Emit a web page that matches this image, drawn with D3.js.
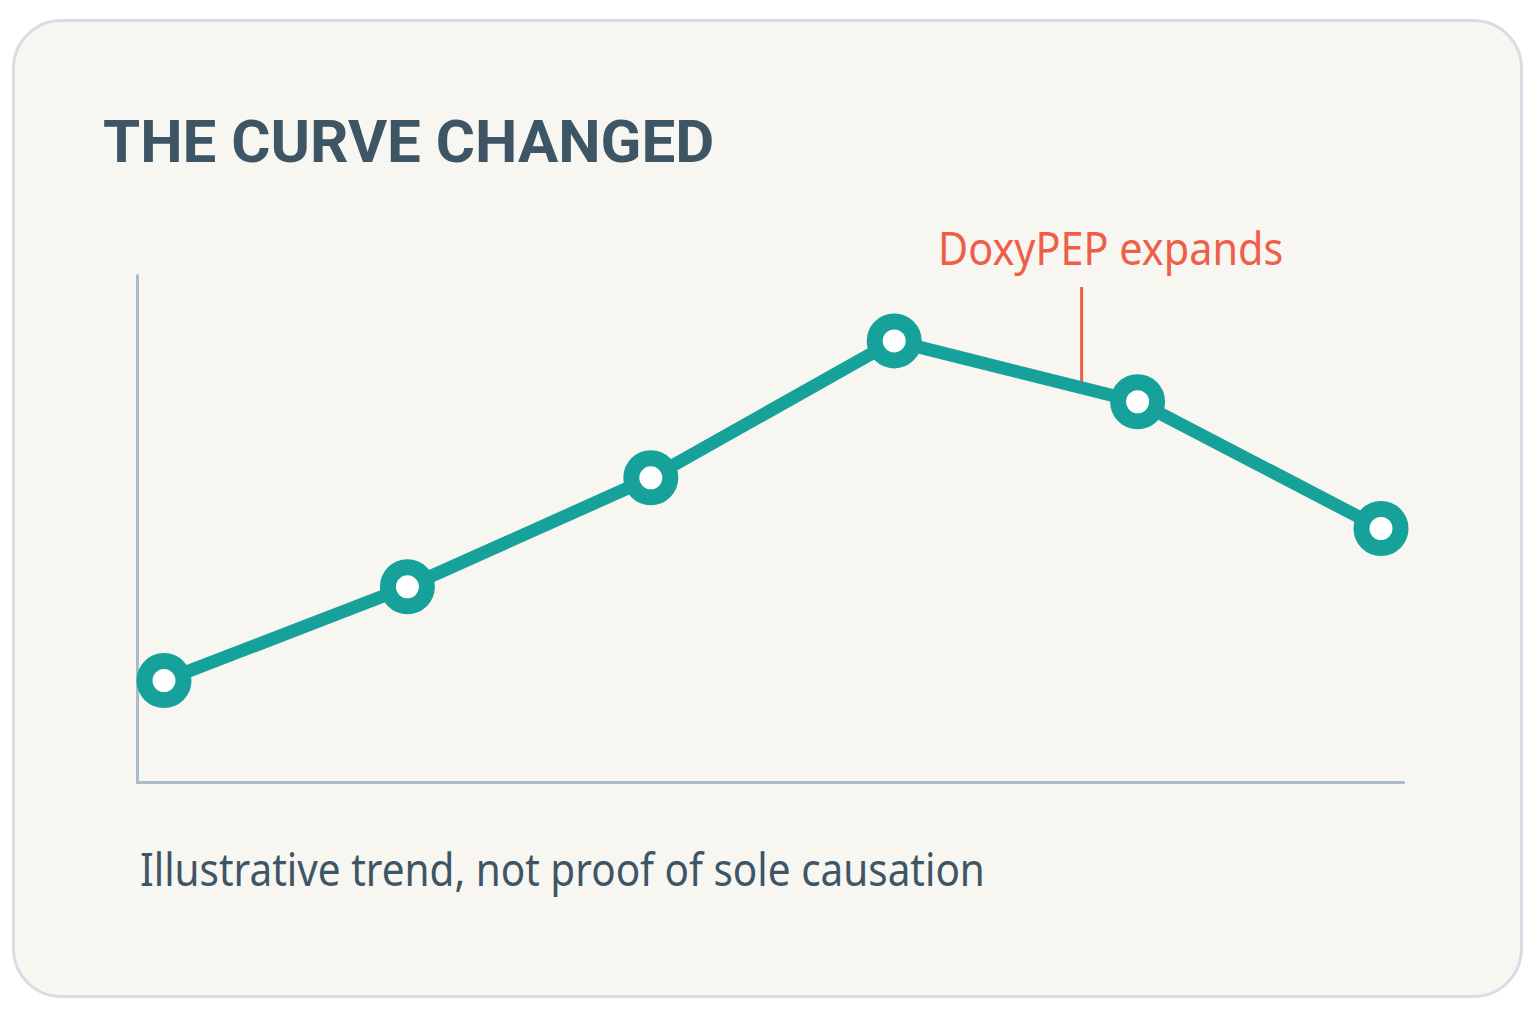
<!DOCTYPE html>
<html>
<head>
<meta charset="utf-8">
<script src="https://cdn.jsdelivr.net/npm/d3@7"></script>
<style>
    html, body { margin: 0; padding: 0; background: #ffffff; }
    svg { display: block; }
</style>
</head>
<body>
<div id="chart"></div>
<script>
// chart values
const steps = [0, 1, 2, 3, 4, 5];
const values = [20, 38.5, 60, 87, 75, 50];
const annotationStep = 3.77;
const annotationLabel = 'DoxyPEP expands';
const titleText = 'THE CURVE CHANGED';
const noteText = 'Illustrative trend, not proof of sole causation';

const W = 1536;
const H = 1024;

const colors = {
    card: '#f8f6f1',
    cardStroke: '#d6dee5',
    title: '#3e5566',
    axis: '#aabccb',
    line: '#17a19b',
    note: '#ee5e48',
};

const svg = d3.select('#chart')
    .append('svg')
    .attr('width', W)
    .attr('height', H);

// card
svg.append('rect')
    .attr('x', 13.5)
    .attr('y', 20.5)
    .attr('width', 1508)
    .attr('height', 976)
    .attr('rx', 48)
    .attr('fill', colors.card)
    .attr('stroke', colors.cardStroke)
    .attr('stroke-width', 3);

svg.append('text')
    .attr('x', 103)
    .attr('y', 162)
    .attr('font-family', 'Roboto, sans-serif')
    .attr('font-weight', 700)
    .attr('font-size', 60)
    .attr('fill', colors.title)
    .text(titleText);

// scales
const x = d3.scaleLinear()
    .domain([0, 5])
    .range([164, 1381]);

const y = d3.scaleLinear()
    .domain([0, 100])
    .range([782, 275]);

// axes (plain lines, no ticks)
const axisColor = colors.axis;
svg.append('g')
    .attr('transform', `translate(0,${y(0)})`)
    .call(d3.axisBottom(x.copy().domain([-0.11, 5.09]).range([137, 1403])).ticks(0).tickSize(0))
    .call((g) => g.select('.domain').attr('stroke', axisColor).attr('stroke-width', 3).attr('stroke-linecap', 'round'));

svg.append('g')
    .attr('transform', `translate(137,0)`)
    .call(d3.axisLeft(y).ticks(0).tickSize(0))
    .call((g) => g.select('.domain').attr('stroke', axisColor).attr('stroke-width', 3).attr('stroke-linecap', 'round'));

// annotation
const ax = x(annotationStep);
svg.append('text')
    .attr('transform', `translate(${ax + 29},265) scale(0.9,1)`)
    .attr('text-anchor', 'middle')
    .attr('font-family', '"Noto Sans", sans-serif')
    .attr('font-size', 46)
    .attr('fill', colors.note)
    .text(annotationLabel);

const yAt = values[3] + (values[4] - values[3]) * (annotationStep - 3);
svg.append('line')
    .attr('x1', ax)
    .attr('x2', ax)
    .attr('y1', 287)
    .attr('y2', y(yAt) + 2)
    .attr('stroke', colors.note)
    .attr('stroke-width', 3);

// line + markers
const data = steps.map((s, i) => ({ s, v: values[i] }));
const line = d3.line()
    .x((d) => x(d.s))
    .y((d) => y(d.v));

svg.append('path')
    .datum(data)
    .attr('d', line)
    .attr('fill', 'none')
    .attr('stroke', colors.line)
    .attr('stroke-width', 13)
    .attr('stroke-linejoin', 'round');

svg.append('g')
    .selectAll('circle')
    .data(data)
    .enter()
    .append('circle')
    .attr('cx', (d) => x(d.s))
    .attr('cy', (d) => y(d.v))
    .attr('r', 19.5)
    .attr('fill', '#ffffff')
    .attr('stroke', colors.line)
    .attr('stroke-width', 16);

svg.append('text')
    .attr('transform', 'translate(140,886) scale(0.88,1)')
    .attr('font-family', '"Noto Sans", sans-serif')
    .attr('font-size', 46)
    .attr('fill', colors.title)
    .text(noteText);
</script>
</body>
</html>
